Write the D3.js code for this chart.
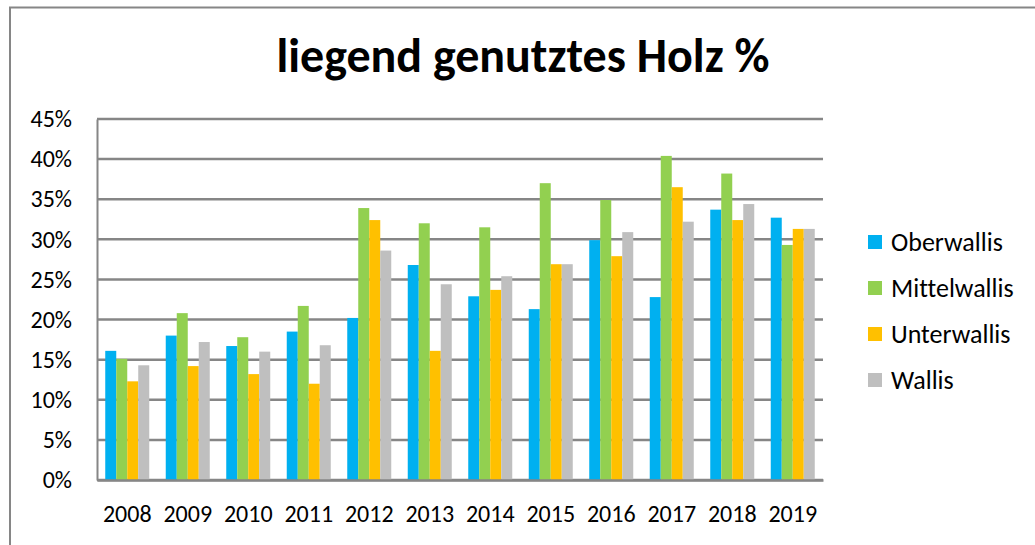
<!DOCTYPE html>
<html>
<head>
<meta charset="utf-8">
<script src="https://cdn.jsdelivr.net/npm/d3@7"></script>
<style>
  body { margin: 0; background: #fff; }
  text { font-family: Carlito, Calibri, "Open Sans", sans-serif; fill: #000; font-variant-ligatures: none; }
</style>
</head>
<body>
<div id="chart"></div>
<script>
const years = ["2008", "2009", "2010", "2011", "2012", "2013", "2014", "2015", "2016", "2017", "2018", "2019"];
const regions = ["Oberwallis", "Mittelwallis", "Unterwallis", "Wallis"];
const oberwallis   = [16.1, 18.0, 16.7, 18.5, 20.2, 26.8, 22.9, 21.3, 29.9, 22.8, 33.7, 32.7];
const mittelwallis = [15.1, 20.8, 17.8, 21.7, 33.9, 32.0, 31.5, 37.0, 34.9, 40.4, 38.2, 29.3];
const unterwallis  = [12.3, 14.2, 13.2, 12.0, 32.4, 16.1, 23.7, 26.9, 27.9, 36.5, 32.4, 31.3];
const wallis       = [14.3, 17.2, 16.0, 16.8, 28.6, 24.4, 25.4, 26.9, 30.9, 32.2, 34.4, 31.3];
const colors = ["#00B0F0", "#92D050", "#FFC000", "#BFBFBF"];
const yTicks = [0, 5, 10, 15, 20, 25, 30, 35, 40, 45];

const series = [oberwallis, mittelwallis, unterwallis, wallis];
const width = 1035, height = 545;

const svg = d3.select("#chart").append("svg")
    .attr("width", width)
    .attr("height", height);

// outer chart border (cut off at right and bottom)
svg.append("rect")
    .attr("x", 10).attr("y", 7.5)
    .attr("width", 1100).attr("height", 600)
    .attr("fill", "none")
    .attr("stroke", "#868686")
    .attr("stroke-width", 2);

// title
svg.append("text")
    .attr("x", 523).attr("y", 72)
    .attr("text-anchor", "middle")
    .style("font-size", "48px")
    .style("font-weight", "bold")
    .text("liegend genutztes Holz %");

const x = d3.scaleBand().domain(years).range([97, 823]).padding(0);
const xInner = d3.scaleBand().domain(regions).range([8.25, x.bandwidth() - 8.25]).padding(0);
const y = d3.scaleLinear().domain([0, 45]).range([480, 119]);

// gridlines
svg.append("g")
    .selectAll("line")
    .data(yTicks)
    .enter().append("line")
    .attr("x1", 97).attr("x2", 823)
    .attr("y1", d => y(d)).attr("y2", d => y(d))
    .attr("stroke", "#868686")
    .attr("stroke-width", 2.5);

// y axis labels
const yAxis = svg.append("g")
    .attr("transform", "translate(97,0)")
    .call(d3.axisLeft(y).tickValues(yTicks).tickSize(0).tickPadding(25).tickFormat(d => d + "%"));
yAxis.select(".domain").attr("stroke", "#868686").attr("stroke-width", 2);
yAxis.selectAll("text").style("font-size", "24px").attr("fill", "#000");

// bars
const groups = svg.append("g")
    .selectAll("g")
    .data(years)
    .enter().append("g")
    .attr("transform", d => `translate(${x(d)},0)`);

groups.selectAll("rect")
    .data((d, i) => regions.map((r, j) => ({ region: r, value: series[j][i], color: colors[j] })))
    .enter().append("rect")
    .attr("x", d => xInner(d.region))
    .attr("width", xInner.bandwidth())
    .attr("y", d => y(d.value))
    .attr("height", d => y(0) - y(d.value))
    .attr("fill", d => d.color);

// x axis
const xAxis = svg.append("g")
    .attr("transform", "translate(0,480)")
    .call(d3.axisBottom(x).tickSize(0).tickPadding(25));
xAxis.select(".domain").attr("stroke", "#868686").attr("stroke-width", 2.5);
xAxis.selectAll("text").style("font-size", "24px").attr("fill", "#000");

// legend
const legend = svg.append("g")
    .selectAll("g")
    .data(regions)
    .enter().append("g")
    .attr("transform", (d, i) => `translate(868,${242 + i * 46})`);

legend.append("rect")
    .attr("x", 0).attr("y", -7)
    .attr("width", 14).attr("height", 14)
    .attr("fill", (d, i) => colors[i]);

legend.append("text")
    .attr("x", 23).attr("y", 0)
    .attr("dy", "0.35em")
    .style("font-size", "26px")
    .text(d => d);
</script>
</body>
</html>
